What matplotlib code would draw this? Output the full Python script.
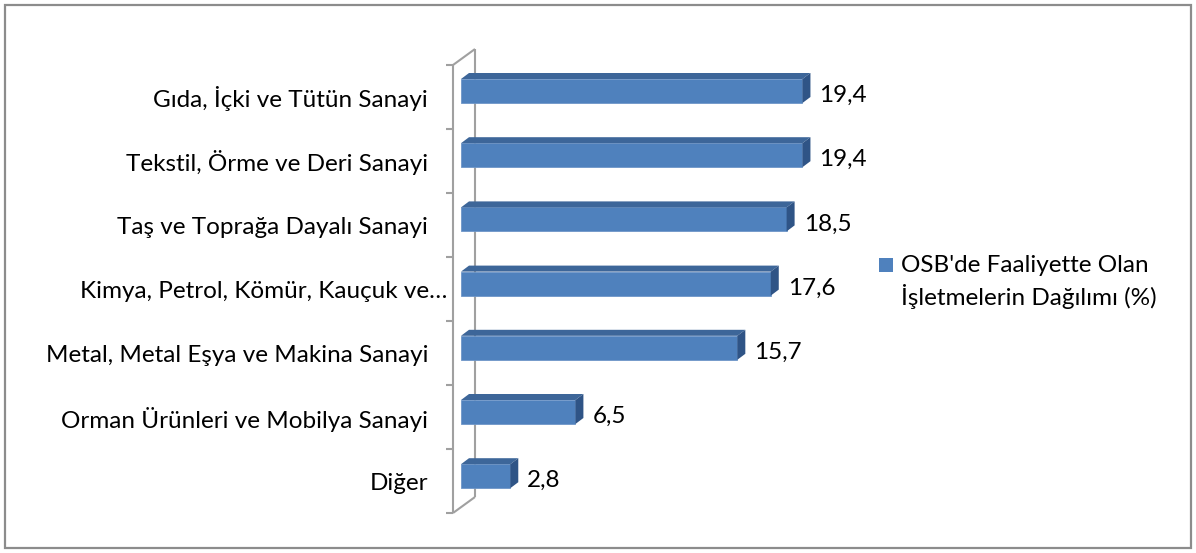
import matplotlib
matplotlib.use("Agg")
import matplotlib.pyplot as plt
from matplotlib.patches import Polygon, Rectangle

# OSB sector shares, top to bottom as in the chart
categories = ['Gıda, İçki ve Tütün Sanayi', 'Tekstil, Örme ve Deri Sanayi',
              'Taş ve Toprağa Dayalı Sanayi', 'Kimya, Petrol, Kömür, Kauçuk ve…',
              'Metal, Metal Eşya ve Makina Sanayi', 'Orman Ürünleri ve Mobilya Sanayi',
              'Diğer']
values = [19.4, 19.4, 18.5, 17.6, 15.7, 6.5, 2.8]
value_labels = ['19,4', '19,4', '18,5', '17,6', '15,7', '6,5', '2,8']
legend_text = "OSB'de Faaliyette Olan\nİşletmelerin Dağılımı (%)"

front_col = '#4F81BD'
top_col = '#3D6699'
side_col = '#2F5486'
wall_col = '#A0A0A0'
fs = 17.5

W, H = 1196, 553
fig = plt.figure(figsize=(W / 100, H / 100), dpi=100)
plt.rcParams['font.family'] = ['Lato', 'DejaVu Sans']

# outer chart border
fig.add_artist(Rectangle((5 / W, 5 / H), 1186 / W, 543 / H, transform=fig.transFigure,
                         fill=False, edgecolor='#8C8C8C', linewidth=1.6))

# axes placed so that value 0 sits at x=461px, 17.6 px per unit; category pitch 64.2px
px_unit = 17.6
pitch = 64.2
x0_px, y0_px = 461, 91
xmin, xmax = -1.0, 20.0
ytop_px, ybot_px = 40, 530
left = (x0_px + xmin * px_unit) / W
width = (xmax - xmin) * px_unit / W
ax = fig.add_axes([left, 1 - ybot_px / H, width, (ybot_px - ytop_px) / H])
ax.set_xlim(xmin, xmax)
ax.set_ylim((ybot_px - y0_px) / pitch, (ytop_px - y0_px) / pitch)
ax.axis('off')

dx = 8 / px_unit   # depth offset to the right
dy = 6 / pitch     # depth offset upward
h = 24 / pitch     # bar thickness

# back/side walls (thin gray lines)
fx = -8 / px_unit
bx = 14 / px_unit
ytop_f = (65 - y0_px) / pitch
ybot_f = (513 - y0_px) / pitch
ytop_b = (49 - y0_px) / pitch
ybot_b = (497 - y0_px) / pitch
kw = dict(color=wall_col, lw=1.5, clip_on=False, solid_capstyle='butt')
ax.plot([fx, fx], [ytop_f, ybot_f], **kw)
ax.plot([bx, bx], [ytop_b, ybot_b], **kw)
ax.plot([fx, bx], [ytop_f, ytop_b], **kw)
ax.plot([fx, bx], [ybot_f, ybot_b], **kw)
for k in range(len(categories) + 1):
    yt = ytop_f + k * (ybot_f - ytop_f) / len(categories)
    ax.plot([fx - 7 / px_unit, fx], [yt, yt], **kw)

ypos = list(range(len(categories)))
ax.barh(ypos, values, height=h, color=front_col, edgecolor='#6E96C8', linewidth=0.6, zorder=3)
for y, v in zip(ypos, values):
    top = [(0, y - h / 2), (v, y - h / 2), (v + dx, y - h / 2 - dy), (dx, y - h / 2 - dy)]
    side = [(v, y - h / 2), (v + dx, y - h / 2 - dy), (v + dx, y + h / 2 - dy), (v, y + h / 2)]
    ax.add_patch(Polygon(top, closed=True, facecolor=top_col, edgecolor='none', zorder=3))
    ax.add_patch(Polygon(side, closed=True, facecolor=side_col, edgecolor='none', zorder=3))

for y, v, lab in zip(ypos, values, value_labels):
    ax.text(v + 17 / px_unit, y + 0.07, lab, va='center', ha='left', fontsize=fs, color='black')

for y, cat in zip(ypos, categories):
    xr = 447 if cat.endswith('…') else 428
    ax.text((xr - x0_px) / px_unit, y + 0.12, cat, va='center', ha='right',
            fontsize=fs, color='black', clip_on=False)

# legend
fig.add_artist(Rectangle((879 / W, 1 - 272 / H), 14 / W, 14 / H, transform=fig.transFigure,
                         facecolor=front_col, edgecolor='none'))
fig.text(901 / W, 1 - 282 / H, legend_text, ha='left', va='center', fontsize=fs,
         linespacing=1.35, color='black')

fig.savefig('out.png', dpi=100)
